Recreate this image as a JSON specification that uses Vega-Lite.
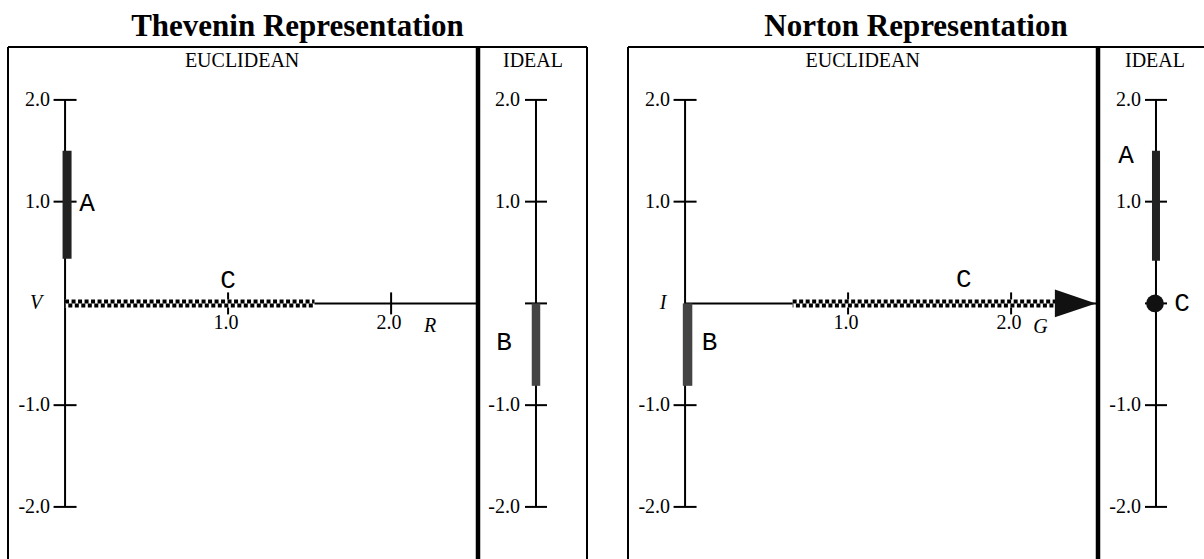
{
  "$schema": "https://vega.github.io/schema/vega-lite/v6.json",
  "padding": {"left": 7, "top": 10, "right": 0, "bottom": 0},
  "background": "white",
  "config": {"view": {"stroke": null}, "axis": {"disable": true}, "font": "Liberation Serif"},
  "datasets": {
    "yticksE": [{"v": 2, "label": "2.0"}, {"v": 1, "label": "1.0"}, {"v": -1, "label": "-1.0"}, {"v": -2, "label": "-2.0"}],
    "yticksI": [{"v": 2, "label": "2.0"}, {"v": 1, "label": "1.0"}, {"v": 0, "label": ""}, {"v": -1, "label": "-1.0"}, {"v": -2, "label": "-2.0"}],
    "xticks": [{"v": 1, "label": "1.0"}, {"v": 2, "label": "2.0"}],
    "thevEucBars": [{"name": "A", "lo": 0.44, "hi": 1.5}],
    "thevEucLines": [{"name": "C", "from": 0, "to": 1.53}],
    "thevEucLabels": [
      {"text": "EUCLIDEAN", "kind": "section", "x": 1.086, "y": 2.326},
      {"text": "A", "kind": "element", "x": 0.135, "y": 0.99},
      {"text": "C", "kind": "element", "x": 1.0, "y": 0.23},
      {"text": "V", "kind": "quantity", "x": -0.178, "y": 0},
      {"text": "R", "kind": "quantity", "x": 2.24, "y": -0.22}
    ],
    "thevIdealBars": [{"name": "B", "lo": -0.81, "hi": 0}],
    "thevIdealLabels": [
      {"text": "IDEAL", "kind": "section", "x": -0.055, "y": 2.326},
      {"text": "B", "kind": "element", "x": -0.587, "y": -0.38}
    ],
    "nortEucBars": [{"name": "B", "lo": -0.81, "hi": 0}],
    "nortEucLines": [{"name": "C", "from": 0.66, "to": 2.52}],
    "nortEucLabels": [
      {"text": "EUCLIDEAN", "kind": "section", "x": 1.09, "y": 2.326},
      {"text": "B", "kind": "element", "x": 0.15, "y": -0.38},
      {"text": "C", "kind": "element", "x": 1.71, "y": 0.238},
      {"text": "I", "kind": "quantity", "x": -0.135, "y": 0},
      {"text": "G", "kind": "quantity", "x": 2.18, "y": -0.23}
    ],
    "nortIdealBars": [{"name": "A", "lo": 0.42, "hi": 1.5}],
    "nortIdealPoints": [{"name": "C", "v": 0}],
    "nortIdealLabels": [
      {"text": "IDEAL", "kind": "section", "x": -0.018, "y": 2.326},
      {"text": "A", "kind": "element", "x": -0.55, "y": 1.46},
      {"text": "C", "kind": "element", "x": 0.477, "y": 0}
    ]
  },
  "spacing": 39,
  "hconcat": [
    {
      "title": {"text": "Thevenin Representation", "fontSize": 31, "font": "Liberation Serif", "fontWeight": "bold", "anchor": "middle", "baseline": "alphabetic", "offset": -22, "color": "black"},
      "spacing": 0,
      "bounds": "flush",
      "hconcat": [
        {
          "width": 470, "height": 512,
          "layer": [
            {"data": {"values": [{}]}, "mark": {"type": "rule", "color": "black", "strokeWidth": 2}, "encoding": {"y": {"value": 0}}},
            {"data": {"values": [{}]}, "mark": {"type": "rule", "color": "black", "strokeWidth": 2}, "encoding": {"x": {"value": 0}}},
            {"data": {"values": [{}]}, "mark": {"type": "rule", "color": "black", "strokeWidth": 4.5}, "encoding": {"x": {"value": "width"}}},
            {"data": {"name": "yticksE"}, "mark": {"type": "rule", "color": "black", "strokeWidth": 2},
             "encoding": {"x": {"datum": 0, "type": "quantitative", "scale": {"domain": [-0.35, 2.533], "nice": false, "zero": false}},
                          "y": {"aggregate": "max", "field": "v", "type": "quantitative", "scale": {"domain": [-2.512, 2.52], "nice": false, "zero": false}},
                          "y2": {"aggregate": "min", "field": "v"}}},
            {"data": {"values": [{}]}, "mark": {"type": "rule", "color": "black", "strokeWidth": 2},
             "encoding": {"x": {"datum": 0, "type": "quantitative", "scale": {"domain": [-0.35, 2.533], "nice": false, "zero": false}},
                          "x2": {"value": "width"},
                          "y": {"datum": 0, "type": "quantitative", "scale": {"domain": [-2.512, 2.52], "nice": false, "zero": false}}}},
            {"data": {"name": "yticksE"}, "mark": {"type": "point", "shape": "M-1,0L1,0", "size": 529, "filled": false, "color": "black", "stroke": "black", "strokeWidth": 2, "opacity": 1},
             "encoding": {"x": {"datum": 0, "type": "quantitative", "scale": {"domain": [-0.35, 2.533], "nice": false, "zero": false}},
                          "y": {"field": "v", "type": "quantitative", "scale": {"domain": [-2.512, 2.52], "nice": false, "zero": false}}}},
            {"data": {"name": "yticksE"}, "mark": {"type": "text", "align": "right", "baseline": "middle", "dx": -15, "font": "Liberation Serif", "fontSize": 20, "color": "black"},
             "encoding": {"x": {"datum": 0, "type": "quantitative", "scale": {"domain": [-0.35, 2.533], "nice": false, "zero": false}},
                          "y": {"field": "v", "type": "quantitative", "scale": {"domain": [-2.512, 2.52], "nice": false, "zero": false}},
                          "text": {"field": "label"}}},
            {"data": {"name": "xticks"}, "mark": {"type": "point", "shape": "M0,-1L0,1", "size": 484, "filled": false, "color": "black", "stroke": "black", "strokeWidth": 2, "opacity": 1},
             "encoding": {"x": {"field": "v", "type": "quantitative", "scale": {"domain": [-0.35, 2.533], "nice": false, "zero": false}},
                          "y": {"datum": 0, "type": "quantitative", "scale": {"domain": [-2.512, 2.52], "nice": false, "zero": false}}}},
            {"data": {"name": "xticks"}, "mark": {"type": "text", "align": "center", "baseline": "middle", "dy": 20, "dx": -2, "font": "Liberation Serif", "fontSize": 20, "color": "black"},
             "encoding": {"x": {"field": "v", "type": "quantitative", "scale": {"domain": [-0.35, 2.533], "nice": false, "zero": false}},
                          "y": {"datum": 0, "type": "quantitative", "scale": {"domain": [-2.512, 2.52], "nice": false, "zero": false}},
                          "text": {"field": "label"}}},
            {"data": {"name": "thevEucLines"}, "mark": {"type": "rule", "color": "white", "strokeWidth": 8},
             "encoding": {"x": {"field": "from", "type": "quantitative", "scale": {"domain": [-0.35, 2.533], "nice": false, "zero": false}}, "x2": {"field": "to"},
                          "y": {"datum": 0, "type": "quantitative", "scale": {"domain": [-2.512, 2.52], "nice": false, "zero": false}}, "y2": {"datum": 0}}},
            {"data": {"name": "thevEucLines"}, "mark": {"type": "rule", "color": "black", "strokeWidth": 4, "strokeDash": [4, 2.5], "yOffset": -2, "y2Offset": -2},
             "encoding": {"x": {"field": "from", "type": "quantitative", "scale": {"domain": [-0.35, 2.533], "nice": false, "zero": false}}, "x2": {"field": "to"},
                          "y": {"datum": 0, "type": "quantitative", "scale": {"domain": [-2.512, 2.52], "nice": false, "zero": false}}, "y2": {"datum": 0}}},
            {"data": {"name": "thevEucLines"}, "mark": {"type": "rule", "color": "black", "strokeWidth": 4, "strokeDash": [4, 2.5], "strokeDashOffset": 3.25, "yOffset": 2, "y2Offset": 2},
             "encoding": {"x": {"field": "from", "type": "quantitative", "scale": {"domain": [-0.35, 2.533], "nice": false, "zero": false}}, "x2": {"field": "to"},
                          "y": {"datum": 0, "type": "quantitative", "scale": {"domain": [-2.512, 2.52], "nice": false, "zero": false}}, "y2": {"datum": 0}}},
            {"data": {"name": "thevEucBars"}, "mark": {"type": "rule", "color": "#222222", "strokeWidth": 9, "xOffset": 2, "x2Offset": 2},
             "encoding": {"x": {"datum": 0, "type": "quantitative", "scale": {"domain": [-0.35, 2.533], "nice": false, "zero": false}}, "x2": {"datum": 0},
                          "y": {"field": "lo", "type": "quantitative", "scale": {"domain": [-2.512, 2.52], "nice": false, "zero": false}}, "y2": {"field": "hi"}}},
            {"data": {"name": "thevEucLabels"}, "transform": [{"filter": "datum.kind === 'section'"}],
             "mark": {"type": "text", "align": "center", "baseline": "alphabetic", "font": "Liberation Serif", "fontSize": 20, "color": "black"},
             "encoding": {"x": {"field": "x", "type": "quantitative", "scale": {"domain": [-0.35, 2.533], "nice": false, "zero": false}},
                          "y": {"field": "y", "type": "quantitative", "scale": {"domain": [-2.512, 2.52], "nice": false, "zero": false}}, "text": {"field": "text"}}},
            {"data": {"name": "thevEucLabels"}, "transform": [{"filter": "datum.kind === 'element'"}],
             "mark": {"type": "text", "align": "center", "baseline": "middle", "font": "Liberation Mono", "fontSize": 26, "color": "black"},
             "encoding": {"x": {"field": "x", "type": "quantitative", "scale": {"domain": [-0.35, 2.533], "nice": false, "zero": false}},
                          "y": {"field": "y", "type": "quantitative", "scale": {"domain": [-2.512, 2.52], "nice": false, "zero": false}}, "text": {"field": "text"}}},
            {"data": {"name": "thevEucLabels"}, "transform": [{"filter": "datum.kind === 'quantity'"}],
             "mark": {"type": "text", "align": "center", "baseline": "middle", "font": "Liberation Serif", "fontStyle": "italic", "fontSize": 20, "color": "black"},
             "encoding": {"x": {"field": "x", "type": "quantitative", "scale": {"domain": [-0.35, 2.533], "nice": false, "zero": false}},
                          "y": {"field": "y", "type": "quantitative", "scale": {"domain": [-2.512, 2.52], "nice": false, "zero": false}}, "text": {"field": "text"}}}
          ]
        },
        {
          "width": 109, "height": 512,
          "layer": [
            {"data": {"values": [{}]}, "mark": {"type": "rule", "color": "black", "strokeWidth": 2}, "encoding": {"y": {"value": 0}}},
            {"data": {"values": [{}]}, "mark": {"type": "rule", "color": "black", "strokeWidth": 2}, "encoding": {"x": {"value": "width"}}},
            {"data": {"name": "yticksI"}, "mark": {"type": "rule", "color": "black", "strokeWidth": 2},
             "encoding": {"x": {"datum": 0, "type": "quantitative", "scale": {"domain": [-1.064, 0.936], "nice": false, "zero": false}},
                          "y": {"aggregate": "max", "field": "v", "type": "quantitative", "scale": {"domain": [-2.512, 2.52], "nice": false, "zero": false}},
                          "y2": {"aggregate": "min", "field": "v"}}},
            {"data": {"name": "yticksI"}, "mark": {"type": "point", "shape": "M-1,0L1,0", "size": 484, "filled": false, "color": "black", "stroke": "black", "strokeWidth": 2, "opacity": 1},
             "encoding": {"x": {"datum": 0, "type": "quantitative", "scale": {"domain": [-1.064, 0.936], "nice": false, "zero": false}},
                          "y": {"field": "v", "type": "quantitative", "scale": {"domain": [-2.512, 2.52], "nice": false, "zero": false}}}},
            {"data": {"name": "yticksI"}, "mark": {"type": "text", "align": "right", "baseline": "middle", "dx": -16, "font": "Liberation Serif", "fontSize": 20, "color": "black"},
             "encoding": {"x": {"datum": 0, "type": "quantitative", "scale": {"domain": [-1.064, 0.936], "nice": false, "zero": false}},
                          "y": {"field": "v", "type": "quantitative", "scale": {"domain": [-2.512, 2.52], "nice": false, "zero": false}},
                          "text": {"field": "label"}}},
            {"data": {"name": "thevIdealBars"}, "mark": {"type": "rule", "color": "#444444", "strokeWidth": 8.5},
             "encoding": {"x": {"datum": 0, "type": "quantitative", "scale": {"domain": [-1.064, 0.936], "nice": false, "zero": false}},
                          "y": {"field": "lo", "type": "quantitative", "scale": {"domain": [-2.512, 2.52], "nice": false, "zero": false}}, "y2": {"field": "hi"}}},
            {"data": {"name": "thevIdealLabels"}, "transform": [{"filter": "datum.kind === 'section'"}],
             "mark": {"type": "text", "align": "center", "baseline": "alphabetic", "font": "Liberation Serif", "fontSize": 20, "color": "black"},
             "encoding": {"x": {"field": "x", "type": "quantitative", "scale": {"domain": [-1.064, 0.936], "nice": false, "zero": false}},
                          "y": {"field": "y", "type": "quantitative", "scale": {"domain": [-2.512, 2.52], "nice": false, "zero": false}}, "text": {"field": "text"}}},
            {"data": {"name": "thevIdealLabels"}, "transform": [{"filter": "datum.kind === 'element'"}],
             "mark": {"type": "text", "align": "center", "baseline": "middle", "font": "Liberation Mono", "fontSize": 26, "color": "black"},
             "encoding": {"x": {"field": "x", "type": "quantitative", "scale": {"domain": [-1.064, 0.936], "nice": false, "zero": false}},
                          "y": {"field": "y", "type": "quantitative", "scale": {"domain": [-2.512, 2.52], "nice": false, "zero": false}}, "text": {"field": "text"}}}
          ]
        }
      ]
    },
    {
      "title": {"text": "Norton Representation", "fontSize": 31, "font": "Liberation Serif", "fontWeight": "bold", "anchor": "middle", "baseline": "alphabetic", "offset": -22, "color": "black"},
      "spacing": 0,
      "bounds": "flush",
      "hconcat": [
        {
          "width": 470, "height": 512,
          "layer": [
            {"data": {"values": [{}]}, "mark": {"type": "rule", "color": "black", "strokeWidth": 2}, "encoding": {"y": {"value": 0}}},
            {"data": {"values": [{}]}, "mark": {"type": "rule", "color": "black", "strokeWidth": 2}, "encoding": {"x": {"value": 0}}},
            {"data": {"values": [{}]}, "mark": {"type": "rule", "color": "black", "strokeWidth": 4.5}, "encoding": {"x": {"value": "width"}}},
            {"data": {"name": "yticksE"}, "mark": {"type": "rule", "color": "black", "strokeWidth": 2},
             "encoding": {"x": {"datum": 0, "type": "quantitative", "scale": {"domain": [-0.35, 2.533], "nice": false, "zero": false}},
                          "y": {"aggregate": "max", "field": "v", "type": "quantitative", "scale": {"domain": [-2.512, 2.52], "nice": false, "zero": false}},
                          "y2": {"aggregate": "min", "field": "v"}}},
            {"data": {"values": [{}]}, "mark": {"type": "rule", "color": "black", "strokeWidth": 2},
             "encoding": {"x": {"datum": 0, "type": "quantitative", "scale": {"domain": [-0.35, 2.533], "nice": false, "zero": false}},
                          "x2": {"value": "width"},
                          "y": {"datum": 0, "type": "quantitative", "scale": {"domain": [-2.512, 2.52], "nice": false, "zero": false}}}},
            {"data": {"name": "yticksE"}, "mark": {"type": "point", "shape": "M-1,0L1,0", "size": 529, "filled": false, "color": "black", "stroke": "black", "strokeWidth": 2, "opacity": 1},
             "encoding": {"x": {"datum": 0, "type": "quantitative", "scale": {"domain": [-0.35, 2.533], "nice": false, "zero": false}},
                          "y": {"field": "v", "type": "quantitative", "scale": {"domain": [-2.512, 2.52], "nice": false, "zero": false}}}},
            {"data": {"name": "yticksE"}, "mark": {"type": "text", "align": "right", "baseline": "middle", "dx": -15, "font": "Liberation Serif", "fontSize": 20, "color": "black"},
             "encoding": {"x": {"datum": 0, "type": "quantitative", "scale": {"domain": [-0.35, 2.533], "nice": false, "zero": false}},
                          "y": {"field": "v", "type": "quantitative", "scale": {"domain": [-2.512, 2.52], "nice": false, "zero": false}},
                          "text": {"field": "label"}}},
            {"data": {"name": "xticks"}, "mark": {"type": "point", "shape": "M0,-1L0,1", "size": 484, "filled": false, "color": "black", "stroke": "black", "strokeWidth": 2, "opacity": 1},
             "encoding": {"x": {"field": "v", "type": "quantitative", "scale": {"domain": [-0.35, 2.533], "nice": false, "zero": false}},
                          "y": {"datum": 0, "type": "quantitative", "scale": {"domain": [-2.512, 2.52], "nice": false, "zero": false}}}},
            {"data": {"name": "xticks"}, "mark": {"type": "text", "align": "center", "baseline": "middle", "dy": 20, "dx": -2, "font": "Liberation Serif", "fontSize": 20, "color": "black"},
             "encoding": {"x": {"field": "v", "type": "quantitative", "scale": {"domain": [-0.35, 2.533], "nice": false, "zero": false}},
                          "y": {"datum": 0, "type": "quantitative", "scale": {"domain": [-2.512, 2.52], "nice": false, "zero": false}},
                          "text": {"field": "label"}}},
            {"data": {"name": "nortEucLines"}, "mark": {"type": "rule", "color": "white", "strokeWidth": 8, "x2Offset": -40},
             "encoding": {"x": {"field": "from", "type": "quantitative", "scale": {"domain": [-0.35, 2.533], "nice": false, "zero": false}}, "x2": {"field": "to"},
                          "y": {"datum": 0, "type": "quantitative", "scale": {"domain": [-2.512, 2.52], "nice": false, "zero": false}}, "y2": {"datum": 0}}},
            {"data": {"name": "nortEucLines"}, "mark": {"type": "rule", "color": "black", "strokeWidth": 4, "strokeDash": [4, 2.5], "yOffset": -2, "y2Offset": -2, "x2Offset": -40},
             "encoding": {"x": {"field": "from", "type": "quantitative", "scale": {"domain": [-0.35, 2.533], "nice": false, "zero": false}}, "x2": {"field": "to"},
                          "y": {"datum": 0, "type": "quantitative", "scale": {"domain": [-2.512, 2.52], "nice": false, "zero": false}}, "y2": {"datum": 0}}},
            {"data": {"name": "nortEucLines"}, "mark": {"type": "rule", "color": "black", "strokeWidth": 4, "strokeDash": [4, 2.5], "strokeDashOffset": 3.25, "yOffset": 2, "y2Offset": 2, "x2Offset": -40},
             "encoding": {"x": {"field": "from", "type": "quantitative", "scale": {"domain": [-0.35, 2.533], "nice": false, "zero": false}}, "x2": {"field": "to"},
                          "y": {"datum": 0, "type": "quantitative", "scale": {"domain": [-2.512, 2.52], "nice": false, "zero": false}}, "y2": {"datum": 0}}},
            {"data": {"name": "nortEucLines"}, "mark": {"type": "point", "shape": "M-1,-0.68L1,0L-1,0.68Z", "size": 1681, "filled": true, "opacity": 1, "xOffset": -20.5, "color": "#111111"},
             "encoding": {"x": {"field": "to", "type": "quantitative", "scale": {"domain": [-0.35, 2.533], "nice": false, "zero": false}},
                          "y": {"datum": 0, "type": "quantitative", "scale": {"domain": [-2.512, 2.52], "nice": false, "zero": false}}}},
            {"data": {"name": "nortEucBars"}, "mark": {"type": "rule", "color": "#444444", "strokeWidth": 9.5, "xOffset": 2.5, "x2Offset": 2.5},
             "encoding": {"x": {"datum": 0, "type": "quantitative", "scale": {"domain": [-0.35, 2.533], "nice": false, "zero": false}}, "x2": {"datum": 0},
                          "y": {"field": "lo", "type": "quantitative", "scale": {"domain": [-2.512, 2.52], "nice": false, "zero": false}}, "y2": {"field": "hi"}}},
            {"data": {"name": "nortEucLabels"}, "transform": [{"filter": "datum.kind === 'section'"}],
             "mark": {"type": "text", "align": "center", "baseline": "alphabetic", "font": "Liberation Serif", "fontSize": 20, "color": "black"},
             "encoding": {"x": {"field": "x", "type": "quantitative", "scale": {"domain": [-0.35, 2.533], "nice": false, "zero": false}},
                          "y": {"field": "y", "type": "quantitative", "scale": {"domain": [-2.512, 2.52], "nice": false, "zero": false}}, "text": {"field": "text"}}},
            {"data": {"name": "nortEucLabels"}, "transform": [{"filter": "datum.kind === 'element'"}],
             "mark": {"type": "text", "align": "center", "baseline": "middle", "font": "Liberation Mono", "fontSize": 26, "color": "black"},
             "encoding": {"x": {"field": "x", "type": "quantitative", "scale": {"domain": [-0.35, 2.533], "nice": false, "zero": false}},
                          "y": {"field": "y", "type": "quantitative", "scale": {"domain": [-2.512, 2.52], "nice": false, "zero": false}}, "text": {"field": "text"}}},
            {"data": {"name": "nortEucLabels"}, "transform": [{"filter": "datum.kind === 'quantity'"}],
             "mark": {"type": "text", "align": "center", "baseline": "middle", "font": "Liberation Serif", "fontStyle": "italic", "fontSize": 20, "color": "black"},
             "encoding": {"x": {"field": "x", "type": "quantitative", "scale": {"domain": [-0.35, 2.533], "nice": false, "zero": false}},
                          "y": {"field": "y", "type": "quantitative", "scale": {"domain": [-2.512, 2.52], "nice": false, "zero": false}}, "text": {"field": "text"}}}
          ]
        },
        {
          "width": 106, "height": 512,
          "layer": [
            {"data": {"values": [{}]}, "mark": {"type": "rule", "color": "black", "strokeWidth": 2}, "encoding": {"y": {"value": 0}}},
            {"data": {"name": "yticksI"}, "mark": {"type": "rule", "color": "black", "strokeWidth": 2},
             "encoding": {"x": {"datum": 0, "type": "quantitative", "scale": {"domain": [-1.064, 0.881], "nice": false, "zero": false}},
                          "y": {"aggregate": "max", "field": "v", "type": "quantitative", "scale": {"domain": [-2.512, 2.52], "nice": false, "zero": false}},
                          "y2": {"aggregate": "min", "field": "v"}}},
            {"data": {"name": "yticksI"}, "mark": {"type": "point", "shape": "M-1,0L1,0", "size": 484, "filled": false, "color": "black", "stroke": "black", "strokeWidth": 2, "opacity": 1},
             "encoding": {"x": {"datum": 0, "type": "quantitative", "scale": {"domain": [-1.064, 0.881], "nice": false, "zero": false}},
                          "y": {"field": "v", "type": "quantitative", "scale": {"domain": [-2.512, 2.52], "nice": false, "zero": false}}}},
            {"data": {"name": "yticksI"}, "mark": {"type": "text", "align": "right", "baseline": "middle", "dx": -15, "font": "Liberation Serif", "fontSize": 20, "color": "black"},
             "encoding": {"x": {"datum": 0, "type": "quantitative", "scale": {"domain": [-1.064, 0.881], "nice": false, "zero": false}},
                          "y": {"field": "v", "type": "quantitative", "scale": {"domain": [-2.512, 2.52], "nice": false, "zero": false}},
                          "text": {"field": "label"}}},
            {"data": {"name": "nortIdealBars"}, "mark": {"type": "rule", "color": "#222222", "strokeWidth": 8},
             "encoding": {"x": {"datum": 0, "type": "quantitative", "scale": {"domain": [-1.064, 0.881], "nice": false, "zero": false}},
                          "y": {"field": "lo", "type": "quantitative", "scale": {"domain": [-2.512, 2.52], "nice": false, "zero": false}}, "y2": {"field": "hi"}}},
            {"data": {"name": "nortIdealPoints"}, "mark": {"type": "point", "shape": "circle", "size": 314, "filled": true, "opacity": 1, "xOffset": -1, "color": "#111111"},
             "encoding": {"x": {"datum": 0, "type": "quantitative", "scale": {"domain": [-1.064, 0.881], "nice": false, "zero": false}},
                          "y": {"field": "v", "type": "quantitative", "scale": {"domain": [-2.512, 2.52], "nice": false, "zero": false}}}},
            {"data": {"name": "nortIdealLabels"}, "transform": [{"filter": "datum.kind === 'section'"}],
             "mark": {"type": "text", "align": "center", "baseline": "alphabetic", "font": "Liberation Serif", "fontSize": 20, "color": "black"},
             "encoding": {"x": {"field": "x", "type": "quantitative", "scale": {"domain": [-1.064, 0.881], "nice": false, "zero": false}},
                          "y": {"field": "y", "type": "quantitative", "scale": {"domain": [-2.512, 2.52], "nice": false, "zero": false}}, "text": {"field": "text"}}},
            {"data": {"name": "nortIdealLabels"}, "transform": [{"filter": "datum.kind === 'element'"}],
             "mark": {"type": "text", "align": "center", "baseline": "middle", "font": "Liberation Mono", "fontSize": 26, "color": "black"},
             "encoding": {"x": {"field": "x", "type": "quantitative", "scale": {"domain": [-1.064, 0.881], "nice": false, "zero": false}},
                          "y": {"field": "y", "type": "quantitative", "scale": {"domain": [-2.512, 2.52], "nice": false, "zero": false}}, "text": {"field": "text"}}}
          ]
        }
      ]
    }
  ]
}
